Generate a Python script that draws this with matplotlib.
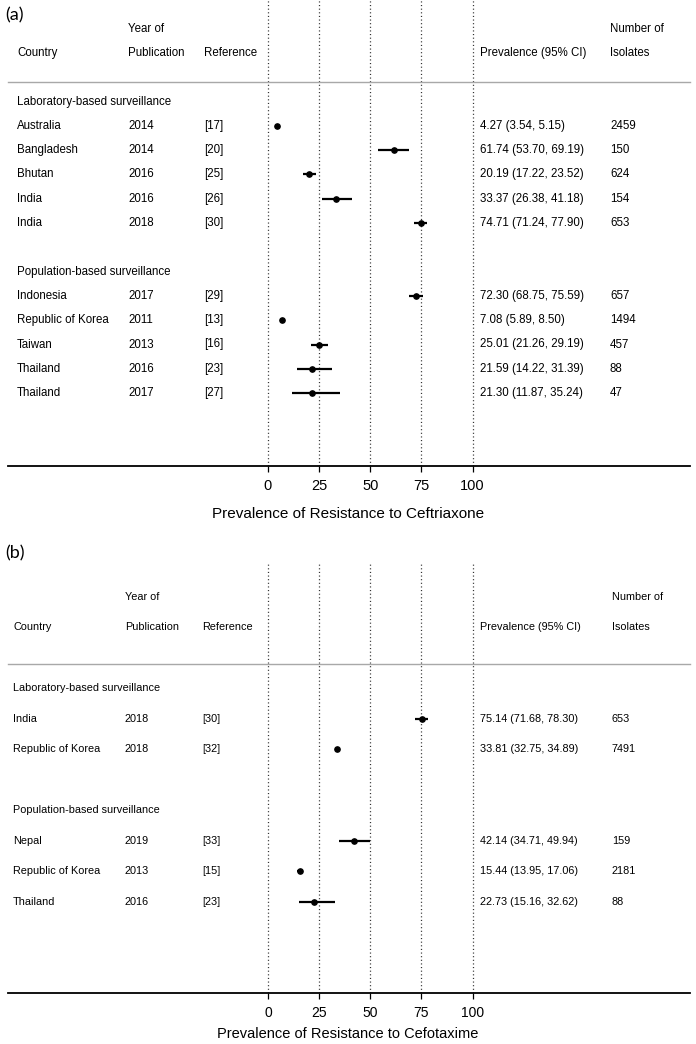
import numpy as np
import matplotlib
matplotlib.use('Agg')
import matplotlib.pyplot as plt
import matplotlib.transforms as mtransforms

plt.rcParams['font.family'] = ['Liberation Sans', 'DejaVu Sans']

### Data - panel (a), ceftriaxone
lab_country_a = ['Australia', 'Bangladesh', 'Bhutan', 'India', 'India']
lab_year_a = [2014, 2014, 2016, 2016, 2018]
lab_ref_a = ['[17]', '[20]', '[25]', '[26]', '[30]']
lab_prev_a = [4.27, 61.74, 20.19, 33.37, 74.71]
lab_lo_a = [3.54, 53.70, 17.22, 26.38, 71.24]
lab_hi_a = [5.15, 69.19, 23.52, 41.18, 77.90]
lab_n_a = [2459, 150, 624, 154, 653]

pop_country_a = ['Indonesia', 'Republic of Korea', 'Taiwan', 'Thailand', 'Thailand']
pop_year_a = [2017, 2011, 2013, 2016, 2017]
pop_ref_a = ['[29]', '[13]', '[16]', '[23]', '[27]']
pop_prev_a = [72.30, 7.08, 25.01, 21.59, 21.30]
pop_lo_a = [68.75, 5.89, 21.26, 14.22, 11.87]
pop_hi_a = [75.59, 8.50, 29.19, 31.39, 35.24]
pop_n_a = [657, 1494, 457, 88, 47]

### Data - panel (b), cefotaxime
lab_country_b = ['India', 'Republic of Korea']
lab_year_b = [2018, 2018]
lab_ref_b = ['[30]', '[32]']
lab_prev_b = [75.14, 33.81]
lab_lo_b = [71.68, 32.75]
lab_hi_b = [78.30, 34.89]
lab_n_b = [653, 7491]

pop_country_b = ['Nepal', 'Republic of Korea', 'Thailand']
pop_year_b = [2019, 2013, 2016]
pop_ref_b = ['[33]', '[15]', '[23]']
pop_prev_b = [42.14, 15.44, 22.73]
pop_lo_b = [34.71, 13.95, 15.16]
pop_hi_b = [49.94, 17.06, 32.62]
pop_n_b = [159, 2181, 88]

ticks = [0, 25, 50, 75, 100]

W, H = 696, 1044
X0_PX, PX_PER_UNIT = 268, 2.045  # where 0 sits and how wide one percent is

fig = plt.figure(figsize=(W / 100, H / 100), dpi=100)


def draw_panel(top_px, bottom_px, step_px, groups, xlabel, letter,
               cols, fs, tick_fs, tick_pad, xlabel_fs, xlabel_px, letter_px):
    """One forest panel: rows of text on the left/right, CI bars in the middle."""
    ax = fig.add_axes([0, 1 - bottom_px / H, 1, (bottom_px - top_px) / H])
    n_rows = (bottom_px - top_px) / step_px
    first_px = groups[0]['first_px']
    r_bottom = (bottom_px - first_px) / step_px
    ax.set_ylim(r_bottom, r_bottom - n_rows)
    ax.set_xlim(-X0_PX / PX_PER_UNIT, (W - X0_PX) / PX_PER_UNIT)
    for s in ax.spines.values():
        s.set_visible(False)
    ax.set_yticks([])
    ax.set_xticks(ticks)
    ax.tick_params(axis='x', direction='out', length=4.5, width=0.9, pad=tick_pad,
                   labelsize=tick_fs, color='black')

    trans = mtransforms.blended_transform_factory(ax.transAxes, ax.transData)
    c_country, c_year, c_ref, c_prev, c_n = [c / W for c in cols]

    # dotted reference lines
    for t in ticks:
        ax.axvline(t, color='#333333', lw=0.9, linestyle=(0, (0.9, 2.0)), zorder=1)

    # header
    ax.text(c_year, -3, 'Year of', transform=trans, fontsize=fs, va='center')
    ax.text(c_n, -3, 'Number of', transform=trans, fontsize=fs, va='center')
    ax.text(c_country, -2, 'Country', transform=trans, fontsize=fs, va='center')
    ax.text(c_year, -2, 'Publication', transform=trans, fontsize=fs, va='center')
    ax.text(c_ref, -2, 'Reference', transform=trans, fontsize=fs, va='center')
    ax.text(c_prev, -2, 'Prevalence (95% CI)', transform=trans, fontsize=fs, va='center')
    ax.text(c_n, -2, 'Isolates', transform=trans, fontsize=fs, va='center')
    ax.axhline(-0.79, xmin=8 / W, xmax=690 / W, color='#a8a8a8', lw=1.0)

    row = 0
    for g in groups:
        ax.text(c_country, row, g['title'], transform=trans, fontsize=fs, va='center')
        rows = np.arange(len(g['country'])) + row + 1
        prev = np.array(g['prev'])
        err = [prev - np.array(g['lo']), np.array(g['hi']) - prev]
        ax.errorbar(prev, rows, xerr=err, fmt='o', color='black', ms=3.8,
                    elinewidth=1.6, capsize=0, zorder=3)
        for r, c, y, rf, p, lo, hi, n in zip(rows, g['country'], g['year'], g['ref'],
                                             g['prev'], g['lo'], g['hi'], g['n']):
            ax.text(c_country, r, c, transform=trans, fontsize=fs, va='center')
            ax.text(c_year, r, str(y), transform=trans, fontsize=fs, va='center')
            ax.text(c_ref, r, rf, transform=trans, fontsize=fs, va='center')
            ax.text(c_prev, r, f'{p:.2f} ({lo:.2f}, {hi:.2f})', transform=trans,
                    fontsize=fs, va='center')
            ax.text(c_n, r, str(n), transform=trans, fontsize=fs, va='center')
        row = rows[-1] + 2

    # bottom axis line
    ax.axhline(r_bottom, xmin=8 / W, xmax=690 / W, color='black', lw=1.3, clip_on=False)
    fig.text(0.5, 1 - xlabel_px / H, xlabel, ha='center', va='center', fontsize=xlabel_fs)
    fig.text(5 / W, 1 - letter_px / H, letter, ha='left', va='center', fontsize=13,
             family=['Lato', 'DejaVu Sans'], color='black')
    return ax


groups_a = [
    dict(title='Laboratory-based surveillance', first_px=101.5, country=lab_country_a,
         year=lab_year_a, ref=lab_ref_a, prev=lab_prev_a, lo=lab_lo_a, hi=lab_hi_a, n=lab_n_a),
    dict(title='Population-based surveillance', country=pop_country_a, year=pop_year_a,
         ref=pop_ref_a, prev=pop_prev_a, lo=pop_lo_a, hi=pop_hi_a, n=pop_n_a),
]
groups_b = [
    dict(title='Laboratory-based surveillance', first_px=688, country=lab_country_b,
         year=lab_year_b, ref=lab_ref_b, prev=lab_prev_b, lo=lab_lo_b, hi=lab_hi_b, n=lab_n_b),
    dict(title='Population-based surveillance', country=pop_country_b, year=pop_year_b,
         ref=pop_ref_b, prev=pop_prev_b, lo=pop_lo_b, hi=pop_hi_b, n=pop_n_b),
]

draw_panel(0, 466, 24.3, groups_a, 'Prevalence of Resistance to Ceftriaxone', '(a)',
           cols=(17, 128, 204, 480, 610), fs=8.3, tick_fs=10.5, tick_pad=5, xlabel_fs=11,
           xlabel_px=514, letter_px=15)
draw_panel(563, 993, 30.5, groups_b, 'Prevalence of Resistance to Cefotaxime', '(b)',
           cols=(13, 125, 202, 480, 612), fs=7.8, tick_fs=10, tick_pad=5, xlabel_fs=10.5,
           xlabel_px=1034, letter_px=553)

fig.savefig('out.png', dpi=100)
